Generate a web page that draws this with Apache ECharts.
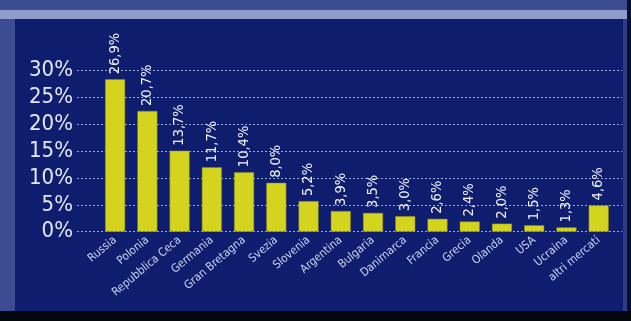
<!DOCTYPE html>
<html>
<head>
<meta charset="utf-8">
<script src="https://cdn.jsdelivr.net/npm/echarts@6/dist/echarts.min.js"></script>
<style>
html,body{margin:0;padding:0;background:#3d4c92;}
#c{width:631px;height:321px;}
</style>
</head>
<body>
<div id="c"></div>
<script>
const categories = ['Russia','Polonia','Repubblica Ceca','Germania','Gran Bretagna','Svezia','Slovenia','Argentina','Bulgaria','Danimarca','Francia','Grecia','Olanda','USA','Ucraina','altri mercati'];
// bar heights as drawn in the picture (percent)
const barValues = [28.4, 22.5, 15.1, 12.0, 11.1, 9.1, 5.7, 3.85, 3.5, 2.9, 2.4, 1.9, 1.5, 1.2, 0.8, 4.9];
// printed value labels
const valueLabels = ['26,9%','20,7%','13,7%','11,7%','10,4%','8,0%','5,2%','3,9%','3,5%','3,0%','2,6%','2,4%','2,0%','1,5%','1,3%','4,6%'];
const yTicks = [0, 5, 10, 15, 20, 25, 30];

const FONT = '"DejaVu Sans Condensed","Liberation Sans Narrow",sans-serif';
const chart = echarts.init(document.getElementById('c'), null, {renderer:'canvas'});
chart.setOption({
  backgroundColor: '#3d4c92',
  animation: false,
  graphic: [
    {type:'rect', shape:{x:0,y:10,width:631,height:9}, style:{fill:'#8e9bcb'}, z:-10},
    {type:'rect', shape:{x:15,y:19,width:608,height:293}, style:{fill:'#0f1d6f'}, z:-10},
    {type:'rect', shape:{x:623,y:19,width:4,height:293}, style:{fill:'#2c3c88'}, z:-10},
    {type:'rect', shape:{x:627,y:0,width:4,height:321}, style:{fill:'#0a0f2a'}, z:-10},
    {type:'rect', shape:{x:0,y:311,width:631,height:10}, style:{fill:'#05070f'}, z:-10}
  ],
  grid: [
    {left:77, right:9, top:70.7, bottom:89.3},
    {left:99, right:16.2, top:70.7, bottom:89.3}
  ],
  xAxis: [
    {gridIndex:0, type:'value', min:0, max:1, show:false},
    {gridIndex:1, type:'category', data:categories,
      axisLine:{show:false}, axisTick:{show:false},
      axisLabel:{interval:0, rotate:40, margin:7, color:'#c9d3ef', fontSize:11.5, fontFamily:FONT}}
  ],
  yAxis: [
    {gridIndex:0, type:'value', min:yTicks[0], max:yTicks[yTicks.length-1], interval:5,
      axisLine:{show:false}, axisTick:{show:false},
      axisLabel:{formatter:'{value}%', color:'#e4e9f7', fontSize:22, fontFamily:FONT, margin:4},
      splitLine:{show:true, lineStyle:{color:'#9aa6d6', type:[2,2], width:1}}},
    {gridIndex:1, type:'value', min:0, max:30, interval:5, show:false, splitLine:{show:false}}
  ],
  series: [{
    type:'bar', xAxisIndex:1, yAxisIndex:1,
    data: barValues,
    barWidth:20,
    itemStyle:{color:'#d4d41e', borderColor:'#8a8a18', borderWidth:0.5},
    label:{show:true, position:'top', rotate:90, align:'left', verticalAlign:'middle', distance:5,
      color:'#f2f4fb', fontSize:14.5, fontFamily:FONT,
      formatter: p => valueLabels[p.dataIndex]}
  }]
});
</script>
</body>
</html>
